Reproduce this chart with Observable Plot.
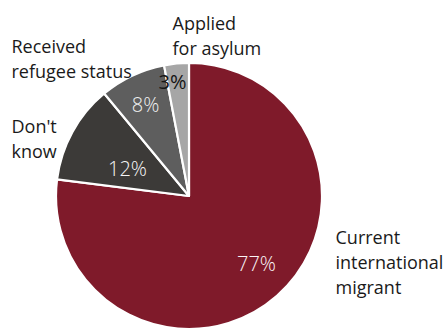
<!DOCTYPE html>
<html><head><meta charset="utf-8">
<script src="https://cdn.jsdelivr.net/npm/d3@7"></script>
<script src="https://cdn.jsdelivr.net/npm/@observablehq/plot@0.6"></script>
<style>html,body{margin:0;padding:0;background:#fff}svg{display:block}</style>
</head><body><div id="chart"></div>
<script>
// Data
const categories = ["Current international migrant", "Don't know", "Received refugee status", "Applied for asylum"];
const values = [77, 12, 8, 3];
const valueLabels = ["77%", "12%", "8%", "3%"];
const categoryLabels = ["Current\ninternational\nmigrant", "Don't\nknow", "Received\nrefugee status", "Applied\nfor asylum"];

// Styles & layout (kept separate from data)
const sliceColors = ["#7f1a2a", "#3c3a38", "#5e5e5e", "#a6a6a6"];
const valueTextColors = ["#faf5f6", "#f6f6f6", "#f0f0f0", "#151515"];
const valueTextWeights = [300, 300, 300, 400];
const valueLabelRadius = [0.72, 0.507, 0.76, 0.867];
const valueLabelAngleOffsetDeg = [-3, -5.7, -0.6, -3.1];
const W = 445, H = 329, CX = 189, CY = 196, R = 133;
const outerLabelPos = [[335, 226], [11, 115], [11, 35], [172, 12]]; // pixel: left x, top y

const toUX = px => (px - CX) / R;
const toUY = py => (CY - py) / R;

const table = categories.map((c, i) => ({category: c, value: values[i], label: valueLabels[i], text: categoryLabels[i], color: sliceColors[i], tcolor: valueTextColors[i], tweight: valueTextWeights[i]}));
const arcs = d3.pie().sort(null).value(d => d.value)(table);

const valuePoints = arcs.map((a, i) => {
  const m = (a.startAngle + a.endAngle) / 2 + valueLabelAngleOffsetDeg[i] * Math.PI / 180;
  const r = valueLabelRadius[i];
  return {...a.data, x: r * Math.sin(m), y: r * Math.cos(m)};
});
const outerPoints = table.map((d, i) => ({...d, x: toUX(outerLabelPos[i][0]), y: toUY(outerLabelPos[i][1])}));

function pieMark(index, scales) {
  const sx = scales && scales.x ? scales.x : (v => CX + v * R);
  const sy = scales && scales.y ? scales.y : (v => CY - v * R);
  const cx = sx(0), cy = sy(0), r = sx(1) - sx(0);
  const arc = d3.arc().innerRadius(0).outerRadius(r);
  const g = d3.create("svg:g").attr("transform", `translate(${cx},${cy})`);
  g.selectAll("path").data(arcs).join("path")
    .attr("d", arc)
    .attr("fill", d => d.data.color)
    .attr("stroke", "#ffffff")
    .attr("stroke-width", 2.2)
    .attr("stroke-linejoin", "round");
  return g.node();
}

const plot = Plot.plot({
  width: W, height: H,
  margin: 0,
  x: {domain: [toUX(0), toUX(W)], range: [0, W], axis: null},
  y: {domain: [toUY(H), toUY(0)], range: [H, 0], axis: null},
  style: {fontFamily: "'Open Sans', sans-serif", background: "#fff"},
  marks: [
    pieMark,
    Plot.text(valuePoints.filter(d => d.tweight === 300), {x: "x", y: "y", text: "label", fill: "tcolor", fontSize: 20, fontWeight: 300, textAnchor: "middle"}),
    Plot.text(valuePoints.filter(d => d.tweight === 400), {x: "x", y: "y", text: "label", fill: "tcolor", fontSize: 20, fontWeight: 400, textAnchor: "middle"}),
    Plot.text(outerPoints, {x: "x", y: "y", text: "text", fill: "#1a1a1a", fontSize: 18, textAnchor: "start", lineAnchor: "top", lineHeight: 1.39})
  ]
});
document.getElementById("chart").appendChild(plot);
</script>
</body></html>
